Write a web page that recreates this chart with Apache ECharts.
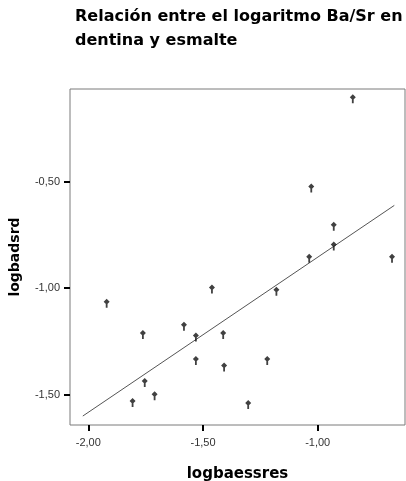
<!DOCTYPE html>
<html>
<head>
<meta charset="utf-8">
<script src="https://cdn.jsdelivr.net/npm/echarts@6/dist/echarts.min.js"></script>
<style>
html,body{margin:0;padding:0;background:#fff;}
#chart{width:406px;height:481px;}
</style>
</head>
<body>
<div id="chart"></div>
<script>
// Data
const titleText = "Relación entre el logaritmo Ba/Sr en\ndentina y esmalte";
const xName = "logbaessres";
const yName = "logbadsrd";
const xValues = [-1.920, -1.762, -1.583, -1.531, -1.461, -1.412, -1.531, -1.408, -1.220, -1.180,
                 -1.754, -1.807, -1.711, -1.303, -1.037, -0.676, -0.847, -1.028, -0.930, -0.930];
const yValues = [-1.061, -1.208, -1.169, -1.220, -0.995, -1.208, -1.330, -1.360, -1.330, -1.005,
                 -1.433, -1.527, -1.496, -1.536, -0.850, -0.850, -0.102, -0.521, -0.700, -0.793];
const fitX = [-2.024, -0.666];
const fitY = [-1.600, -0.612];
const xTicks = [-2.0, -1.5, -1.0];
const yTicks = [-1.5, -1.0, -0.5];

const pts = xValues.map((x, i) => [x, yValues[i]]);
const fitPts = fitX.map((x, i) => [x, fitY[i]]);
const fmt = v => Number(v).toFixed(2).replace('.', ',');

const pin = 'path://M3,0 L6,3 L3,6 L0,3 Z M2.1,4.5 L3.9,4.5 L3.9,9 L2.1,9 Z';

const chart = echarts.init(document.getElementById('chart'), null, {renderer: 'canvas'});
chart.setOption({
  animation: false,
  backgroundColor: '#ffffff',
  title: {
    text: titleText,
    left: 70,
    top: 0,
    textStyle: {
      fontFamily: 'DejaVu Sans',
      fontWeight: 'bold',
      fontSize: 16,
      lineHeight: 24,
      color: '#000'
    }
  },
  grid: {
    left: 70, right: 1, top: 89, bottom: 56,
    containLabel: false,
    outerBoundsMode: 'none',
    show: true, borderColor: '#7a7a7a', borderWidth: 1, backgroundColor: 'transparent'
  },
  xAxis: {
    type: 'value',
    min: -2.0798, max: -0.6194,
    name: xName,
    nameLocation: 'middle',
    nameGap: 42,
    nameTextStyle: {fontFamily: 'DejaVu Sans', fontWeight: 'bold', fontSize: 15, color: '#000'},
    axisLine: {show: false},
    splitLine: {show: false},
    axisTick: {show: true, customValues: xTicks, length: 6, lineStyle: {color: '#000', width: 2}},
    axisLabel: {customValues: xTicks, formatter: fmt, margin: 12, fontFamily: 'Liberation Sans', fontSize: 11, color: '#333'}
  },
  yAxis: {
    type: 'value',
    min: -1.642, max: -0.066,
    name: yName,
    nameLocation: 'middle',
    nameGap: 48,
    nameTextStyle: {fontFamily: 'DejaVu Sans', fontWeight: 'bold', fontSize: 14, color: '#000'},
    axisLine: {show: false},
    splitLine: {show: false},
    axisTick: {show: true, customValues: yTicks, length: 6, lineStyle: {color: '#000', width: 2}},
    axisLabel: {customValues: yTicks, formatter: fmt, margin: 10, fontFamily: 'Liberation Sans', fontSize: 11, color: '#333'}
  },
  series: [
    {
      type: 'line',
      data: fitPts,
      symbol: 'none',
      lineStyle: {color: '#555', width: 1},
      silent: true,
      z: 2
    },
    {
      type: 'scatter',
      data: pts,
      symbol: pin,
      symbolSize: [6, 9],
      symbolOffset: [0, 2],
      itemStyle: {color: '#111'},
      z: 3
    }
  ]
});
</script>
</body>
</html>
